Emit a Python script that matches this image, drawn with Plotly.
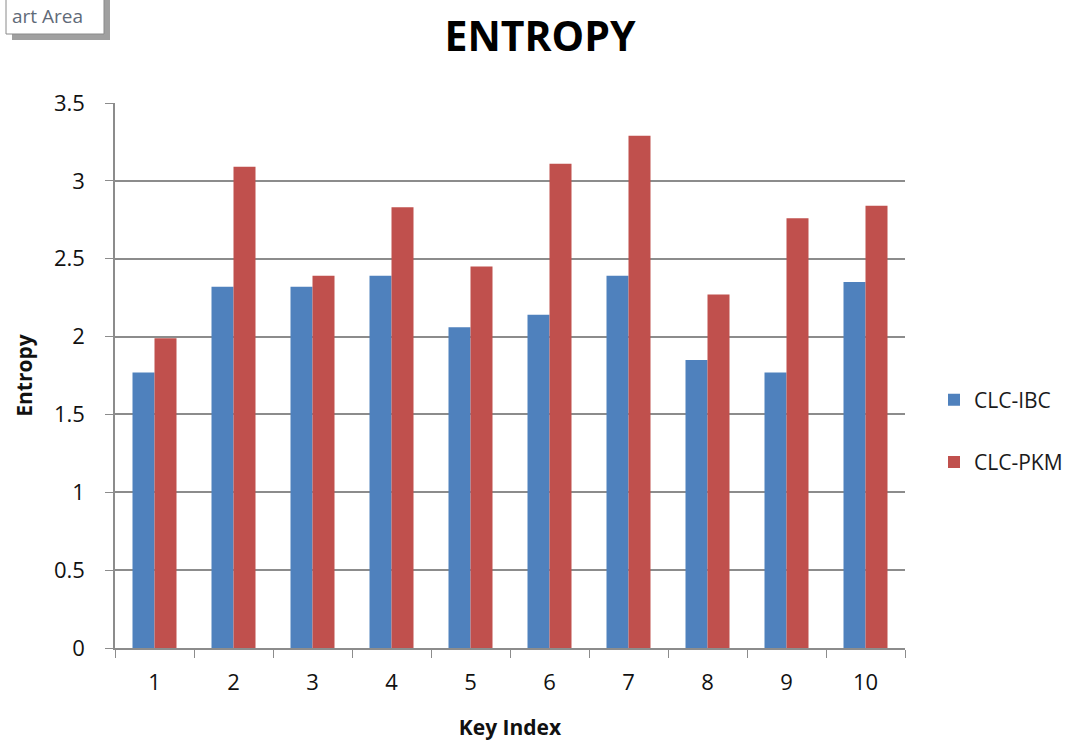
import plotly.graph_objects as go

categories = ["1", "2", "3", "4", "5", "6", "7", "8", "9", "10"]
clc_ibc = [1.77, 2.32, 2.32, 2.39, 2.06, 2.14, 2.39, 1.85, 1.77, 2.35]
clc_pkm = [1.99, 3.09, 2.39, 2.83, 2.45, 3.11, 3.29, 2.27, 2.76, 2.84]
y_ticks = [0, 0.5, 1, 1.5, 2, 2.5, 3, 3.5]
y_tick_text = ["0", "0.5", "1", "1.5", "2", "2.5", "3", "3.5"]

FONT = "'Open Sans', 'Noto Sans', sans-serif"
W, H = 1091, 744
L, R, T, B = 115, 186, 103, 96
PW, PH = W - L - R, H - T - B
GRID = "#8c8c8c"

def px(x):
    return (x - L) / PW

def py(y):
    return (H - B - y) / PH

fig = go.Figure()
fig.add_trace(go.Bar(x=categories, y=clc_ibc, name="CLC-IBC",
                     marker=dict(color="#4F81BD", line=dict(width=0)),
                     legendgroup="a"))
fig.add_trace(go.Bar(x=categories, y=clc_pkm, name="CLC-PKM",
                     marker=dict(color="#C0504D", line=dict(width=0)),
                     legendgroup="b"))

fig.update_layout(
    width=W, height=H,
    margin=dict(l=L, r=R, t=T, b=B, autoexpand=False),
    paper_bgcolor="white", plot_bgcolor="white",
    barmode="group", bargap=0.443, bargroupgap=0,
    font=dict(family=FONT, size=21, color="#000000"),
    title=dict(text="<b>ENTROPY</b>", x=540 / W, xref="container", xanchor="center",
               y=1 - 37 / H, yref="container", yanchor="middle",
               font=dict(family=FONT, size=41, color="#000000")),
    legend=dict(x=px(934), y=py(431), xanchor="left", yanchor="middle",
                font=dict(family=FONT, size=21, color="#1a1a1a"),
                tracegroupgap=32, traceorder="grouped",
                itemwidth=30, bgcolor="rgba(0,0,0,0)"),
    xaxis=dict(
        type="category", automargin=False,
        showline=True, linecolor=GRID, linewidth=1.5,
        ticks="outside", tickson="boundaries", ticklen=8, tickcolor=GRID,
        ticklabelstandoff=14,
        tickfont=dict(family=FONT, size=22, color="#111111"),
        title=dict(text="<b>Key Index</b>", standoff=25,
                   font=dict(family=FONT, size=21, color="#111111")),
        showgrid=False,
    ),
    yaxis=dict(
        range=[0, 3.5], tickvals=y_ticks, ticktext=y_tick_text,
        automargin=False,
        showline=True, linecolor=GRID, linewidth=1.5,
        ticks="outside", ticklen=8, tickcolor=GRID,
        ticklabelstandoff=16,
        showgrid=True, gridcolor=GRID, gridwidth=1.5,
        tickfont=dict(family=FONT, size=22, color="#111111"),
        title=dict(text="<b>Entropy</b>", standoff=16,
                   font=dict(family=FONT, size=21, color="#111111")),
        zeroline=False,
    ),
)

# tooltip artifact at top-left ("Chart Area" cut off in the source)
fig.add_shape(type="rect", xref="paper", yref="paper",
              x0=px(12), x1=px(110), y0=py(40), y1=py(-5),
              fillcolor="#a0a0a0", line=dict(width=0), layer="above")
fig.add_shape(type="rect", xref="paper", yref="paper",
              x0=px(6), x1=px(104), y0=py(34), y1=py(-5),
              fillcolor="white", line=dict(color="#8a8a8a", width=1), layer="above")
fig.add_annotation(text="art Area", xref="paper", yref="paper",
                   x=px(10), y=py(16), xanchor="left", yanchor="middle",
                   showarrow=False, font=dict(family=FONT, size=19, color="#5f6a78"))

fig.write_html("out.html")
